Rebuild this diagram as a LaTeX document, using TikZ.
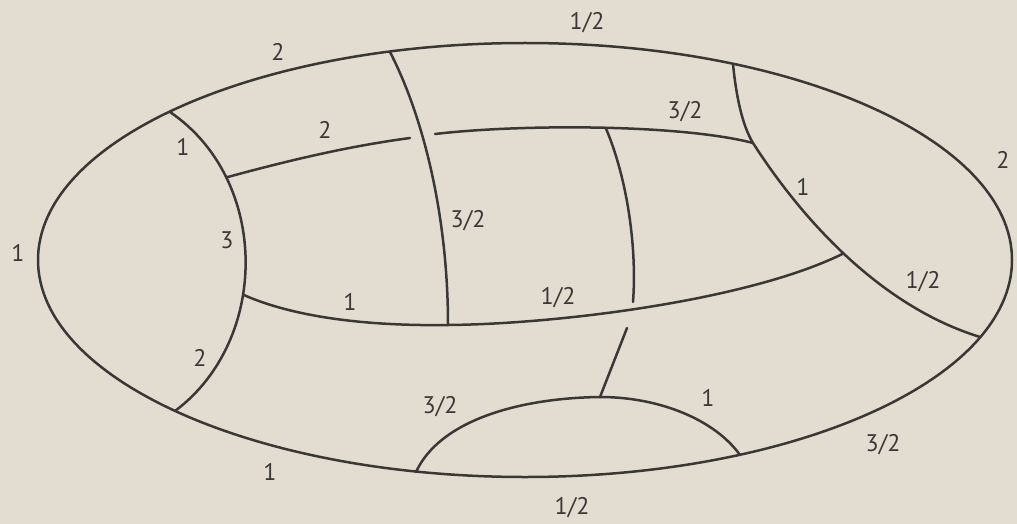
\documentclass[tikz,border=0pt]{standalone}
\usepackage{fontspec}
\setmainfont{PT Sans}
\definecolor{bgc}{RGB}{227,221,209}
\definecolor{ink}{RGB}{58,56,54}
\begin{document}
\begin{tikzpicture}[x=0.5pt,y=-0.5pt,
  edge/.style={draw=ink,line width=1.25pt,line cap=round,line join=round},
  lab/.style={text=ink,font=\fontsize{12}{14}\selectfont,inner sep=0pt}]
\fill[bgc] (0,0) rectangle (1017,524);
\useasboundingbox (0,0) rectangle (1017,524);
% points on the outer ellipse
\coordinate (eL1) at (170,112);
\coordinate (eL2) at (175,411);
\coordinate (eV) at (390,52);
\coordinate (eR1) at (733,64);
\coordinate (eR2) at (980,337);
\coordinate (eB1) at (416,472);
\coordinate (eB2) at (740,455);
% outer ellipse
\draw[edge] (525,260) ellipse [x radius=243.5pt, y radius=108.5pt];
% left arc
\draw[edge] (eL1) .. controls (270,180) and (270,340) .. (eL2)
  coordinate[pos=0.25] (jA) coordinate[pos=0.6] (jB);
% right diagonal
\draw[edge] (eR1) .. controls (736,95) and (742,125) .. (753,143) coordinate (jD);
\draw[edge] (jD) .. controls (780,185) and (860,300) .. (eR2)
  coordinate[pos=0.55] (jE);
% top inner curve, broken where the first cross line passes
\coordinate (gA) at (410,138);
\coordinate (gB) at (435,134);
\draw[edge] (jA) .. controls (290,160) and (350,146) .. (gA);
\draw[edge] (gB) .. controls (520,124) and (680,124) .. (jD)
  coordinate[pos=0.52] (jF);
% bottom inner curve
\coordinate (jC) at (448,325);
\draw[edge] (jB) .. controls (300,320) and (380,326) .. (jC);
\draw[edge] (jC) .. controls (560,324) and (750,300) .. (jE);
% first cross line
\draw[edge] (eV) .. controls (425,120) and (448,220) .. (jC);
% bottom arc
\coordinate (jG) at (600,397);
\draw[edge] (eB1) .. controls (440,420) and (520,398) .. (jG);
\draw[edge] (jG) .. controls (660,397) and (715,420) .. (eB2);
% second cross line, broken at the bottom inner curve
\coordinate (gC) at (633,302);
\coordinate (gD) at (627,328);
\draw[edge] (jF) .. controls (628,180) and (637,250) .. (gC);
\draw[edge] (gD) -- (jG);
% labels
\node[lab] (t1) at (587,23) {1/2};
\node[lab] (t2) at (278,52) {2};
\node[lab] (t3) at (183,147) {1};
\node[lab] (t4) at (325,130) {2};
\node[lab] (t5) at (468,221) {3/2};
\node[lab] (t6) at (227,240) {3};
\node[lab] (t7) at (18,253) {1};
\node[lab] (t8) at (685,112) {3/2};
\node[lab] (t9) at (1003,160) {2};
\node[lab] (t10) at (803,187) {1};
\node[lab] (t11) at (923,282) {1/2};
\node[lab] (t12) at (558,298) {1/2};
\node[lab] (t13) at (350,302) {1};
\node[lab] (t14) at (200,358) {2};
\node[lab] (t15) at (440,407) {3/2};
\node[lab] (t16) at (270,472) {1};
\node[lab] (t17) at (708,398) {1};
\node[lab] (t18) at (883,445) {3/2};
\node[lab] (t19) at (572,508) {1/2};
\end{tikzpicture}
\end{document}
